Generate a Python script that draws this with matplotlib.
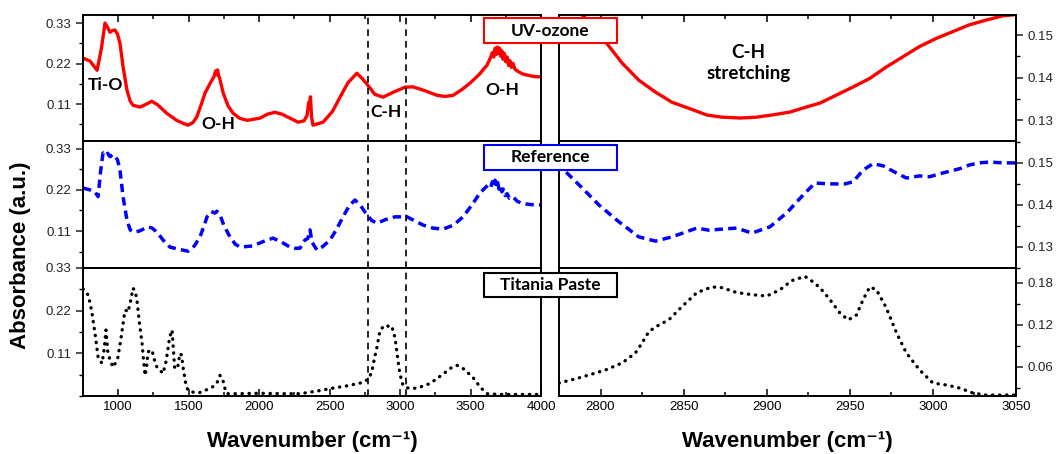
import numpy as np
import matplotlib
matplotlib.use("Agg")
import matplotlib.pyplot as plt
from matplotlib.patches import Rectangle
from matplotlib.ticker import MultipleLocator, AutoMinorLocator

plt.rcParams['font.family'] = ['Liberation Sans', 'DejaVu Sans']

# ---- data ----
# full range, UV-ozone (red)
uv_x = [750, 800, 850, 880, 906, 925, 942, 960, 977, 995, 1012, 1035, 1062, 1085, 1105, 1155, 1200,
        1238, 1280, 1345, 1415, 1460, 1495, 1530, 1557, 1590, 1616, 1650, 1680, 1690, 1700, 1705, 1712,
        1720, 1745, 1780, 1816, 1860, 1914, 2006, 2060, 2112, 2160, 2219, 2276, 2320, 2340, 2352, 2358,
        2364, 2372, 2382, 2453, 2520, 2574, 2630, 2694, 2730, 2772, 2820, 2879, 2950, 3035, 3092, 3180,
        3262, 3320, 3376, 3440, 3496, 3560, 3617, 3640, 3655, 3665, 3675, 3683, 3690, 3698, 3706, 3714,
        3722, 3730, 3740, 3750, 3760, 3770, 3780, 3790, 3801, 3815, 3840, 3870, 3901, 3950, 3993]
uv_y = [.235, .227, .202, .26, .330, .318, .305, .31, .311, .30, .276, .21, .148, .118, .107, .102, .110,
        .118, .108, .085, .066, .058, .053, .060, .075, .11, .14, .165, .185, .20, .19, .203, .188,
        .18, .14, .105, .085, .072, .066, .072, .083, .088, .083, .072, .061, .065, .08, .115, .105,
        .13, .075, .053, .061, .09, .129, .168, .194, .18, .161, .137, .129, .142, .156, .157, .146,
        .134, .131, .134, .15, .167, .19, .216, .235, .25, .238, .262, .245, .265, .248, .262, .24,
        .255, .232, .248, .225, .238, .215, .228, .21, .221, .205, .198, .192, .189, .185, .184]

# full range, Reference (blue)
ref_x = [750, 800, 835, 857, 875, 892, 910, 925, 942, 960, 977, 995, 1012, 1035, 1062, 1085, 1105, 1150,
         1211, 1240, 1275, 1320, 1367, 1420, 1495, 1540, 1580, 1610, 1630, 1660, 1687, 1700, 1722, 1750,
         1793, 1830, 1864, 1956, 2030, 2098, 2160, 2219, 2254, 2290, 2325, 2345, 2361, 2375, 2410, 2450,
         2503, 2550, 2595, 2640, 2680, 2720, 2765, 2800, 2836, 2900, 2964, 3049, 3100, 3163, 3230, 3305,
         3380, 3447, 3510, 3567, 3610, 3630, 3645, 3655, 3665, 3674, 3684, 3692, 3702, 3712, 3722, 3732,
         3745, 3760, 3775, 3801, 3830, 3860, 3901, 3950, 3993]
ref_y = [.225, .220, .215, .202, .27, .319, .312, .318, .309, .315, .311, .30, .274, .20, .139, .113, .107, .110,
         .121, .118, .107, .085, .067, .062, .056, .07, .094, .125, .148, .162, .158, .163, .153, .125,
         .094, .075, .067, .070, .082, .091, .080, .067, .064, .064, .086, .09, .113, .08, .059, .068,
         .086, .115, .148, .178, .193, .178, .153, .138, .131, .141, .148, .148, .138, .126, .118, .115,
         .126, .148, .18, .212, .228, .235, .228, .242, .23, .246, .228, .24, .222, .232, .215, .222,
         .205, .21, .198, .202, .19, .185, .182, .180, .180]

# full range, Titania paste (black)
tp_x = [750, 770, 786, 800, 814, 835, 857, 885, 900, 913, 920, 927, 945, 963, 980, 998, 1020, 1048, 1060,
        1069, 1085, 1105, 1120, 1133, 1150, 1169, 1180, 1190, 1200, 1211, 1225, 1240, 1255, 1275, 1300,
        1318, 1340, 1360, 1375, 1382, 1400, 1420, 1438, 1450, 1460, 1480, 1495, 1540, 1580, 1640, 1687,
        1710, 1722, 1740, 1760, 1772, 1850, 2006, 2150, 2290, 2400, 2503, 2620, 2737, 2780, 2801, 2820,
        2836, 2858, 2880, 2907, 2925, 2943, 2955, 2964, 2975, 2985, 3000, 3021, 3050, 3092, 3150, 3212,
        3300, 3360, 3404, 3450, 3517, 3570, 3617, 3700, 3801, 3900, 3993]
tp_y = [.276, .27, .260, .24, .213, .162, .100, .084, .12, .170, .14, .110, .09, .074, .085, .100, .15, .221, .22,
        .216, .24, .278, .27, .247, .19, .136, .09, .053, .07, .113, .118, .118, .095, .074, .065,
        .058, .09, .14, .165, .170, .074, .07, .110, .105, .074, .03, .014, .009, .009, .018, .027,
        .04, .053, .045, .015, .006, .006, .007, .006, .006, .012, .019, .026, .035, .045, .066, .10,
        .126, .170, .178, .183, .176, .178, .16, .152, .12, .092, .055, .027, .021, .019, .024, .032,
        .055, .072, .079, .07, .048, .022, .006, .004, .004, .004, .004]

# C-H stretching zoom
uv_ch_x = [2775, 2789, 2796, 2803, 2813, 2823, 2833, 2843, 2853, 2864, 2873, 2884, 2894, 2903, 2914,
           2924, 2932, 2942, 2952, 2962, 2972, 2982, 2992, 3002, 3012, 3022, 3032, 3042, 3050]
uv_ch_y = [.158, .1547, .152, .1484, .1434, .1394, .1366, .1342, .1328, .1312, .1307, .1305, .1307, .1312, .1319,
           .1331, .1340, .1359, .1378, .1398, .1425, .1449, .1473, .1492, .1508, .1524, .1535, .1545, .1548]

ref_ch_x = [2775, 2779, 2789, 2799, 2811, 2823, 2833, 2843, 2858, 2865, 2882, 2891, 2902, 2912, 2922,
            2929, 2938, 2947, 2952, 2958, 2964, 2970, 2978, 2984, 2992, 2998, 3006, 3016, 3022, 3028,
            3034, 3042, 3050]
ref_ch_y = [.1505, .1479, .1440, .1400, .1360, .1324, .1314, .1324, .1345, .1340, .1345, .1333, .1348, .1381, .1424,
            .1452, .1450, .1450, .1455, .1483, .1498, .1493, .1476, .1464, .1469, .1467, .1476, .1486, .1495, .1500,
            .1502, .1500, .1500]

tp_ch_x = [2775, 2789, 2803, 2813, 2821, 2825, 2829, 2833, 2841, 2849, 2858, 2867, 2873, 2882, 2891,
           2900, 2908, 2915, 2923, 2928, 2932, 2938, 2944, 2949, 2954, 2958, 2962, 2966, 2972, 2978,
           2984, 2992, 3000, 3008, 3016, 3024, 3032, 3050]
tp_ch_y = [.037, .0457, .0557, .0657, .080, .0943, .110, .117, .127, .146, .166, .174, .173, .166, .163,
           .161, .170, .183, .189, .181, .173, .156, .137, .127, .134, .156, .174, .170, .144, .109,
           .080, .0557, .0371, .0343, .030, .0229, .020, .020]

labels = ['UV-ozone', 'Reference', 'Titania Paste']
edge_colors = ['red', 'blue', 'black']
left_yticks = [[0.11, 0.22, 0.33]] * 3
right_yticks = [[0.13, 0.14, 0.15], [0.13, 0.14, 0.15], [0.06, 0.12, 0.18]]

# ---- figure ----
W, H = 1059, 454
fig = plt.figure(figsize=(W / 100, H / 100), dpi=100)

def fx(px):
    return px / W

def fy(py):
    return 1 - py / H

rows = [(15, 141), (141, 268), (268, 396)]
left_lims = [(0.01, 0.352), (0.011, 0.351), (0.0, 0.33)]
right_lims = [(0.1251, 0.1547), (0.125, 0.1552), (0.0186, 0.201)]

styles = [dict(color='red', lw=2.4, ls='-'),
          dict(color='blue', lw=2.5, ls=(0, (2.4, 1.5))),
          dict(color='black', lw=2.4, ls=(0, (0.1, 2.0)), dash_capstyle='round')]

full = [(uv_x, uv_y), (ref_x, ref_y), (tp_x, tp_y)]
zoom = [(uv_ch_x, uv_ch_y), (ref_ch_x, ref_ch_y), (tp_ch_x, tp_ch_y)]

axL, axR = [], []
for i, (t, b) in enumerate(rows):
    aL = fig.add_axes([fx(83), fy(b), fx(541 - 83), (b - t) / H])
    aR = fig.add_axes([fx(559), fy(b), fx(1016 - 559), (b - t) / H])
    aL.plot(full[i][0], full[i][1], **styles[i])
    aR.plot(zoom[i][0], zoom[i][1], **styles[i])
    aL.set_xlim(750, 4000)
    aR.set_xlim(2775, 3050)
    aL.set_ylim(*left_lims[i])
    aR.set_ylim(*right_lims[i])
    aL.set_yticks(left_yticks[i])
    aR.set_yticks(right_yticks[i])
    aL.yaxis.set_minor_locator(AutoMinorLocator(2))
    aR.yaxis.set_minor_locator(AutoMinorLocator(2))
    aR.yaxis.tick_right()
    aL.xaxis.set_major_locator(MultipleLocator(500))
    aL.xaxis.set_minor_locator(MultipleLocator(250))
    aR.xaxis.set_major_locator(MultipleLocator(50))
    aR.xaxis.set_minor_locator(MultipleLocator(25))
    for a in (aL, aR):
        for s in a.spines.values():
            s.set_linewidth(1.4)
        a.tick_params(axis='y', which='major', direction='out', length=5, width=1.1,
                      labelsize=9.5, colors='#222222')
        a.tick_params(axis='y', which='minor', direction='out', length=3, width=1.0)
        a.tick_params(axis='x', which='both', direction='in', bottom=(i == 2), top=(i == 0),
                      labelbottom=(i == 2), labelsize=9.5, width=1.1)
        a.tick_params(axis='x', which='major', length=5)
        a.tick_params(axis='x', which='minor', length=3)
    for xv in (2770, 3040):
        aL.axvline(xv, color='black', ls=(0, (4, 3)), lw=1.2)
    axL.append(aL)
    axR.append(aR)

# annotations
ann_font = dict(family=['Lato', 'DejaVu Sans'], fontweight='bold', fontsize=12.5)
axL[0].text(906, 0.162, 'Ti-O', ha='center', va='center', **ann_font)
axL[0].text(1708, 0.056, 'O-H', ha='center', va='center', **ann_font)
axL[0].text(2900, 0.088, 'C-H', ha='center', va='center', **ann_font)
axL[0].text(3723, 0.148, 'O-H', ha='center', va='center', **ann_font)
axR[0].text(2889, 0.1434, 'C-H\nstretching', ha='center', va='center', linespacing=1.3,
            family=['Lato', 'DejaVu Sans'], fontweight='bold', fontsize=13.5)

# legend boxes straddling both panels
box_rows = [(18, 43), (145, 170), (273, 297)]
for (t, b), lab, ec in zip(box_rows, labels, edge_colors):
    fig.add_artist(Rectangle((fx(484), fy(b)), fx(617 - 484), (b - t) / H,
                             transform=fig.transFigure, facecolor='white',
                             edgecolor=ec, lw=1.5, zorder=5))
    fig.text(fx((484 + 617) / 2), fy((t + b) / 2), lab, ha='center', va='center',
             zorder=6, **ann_font)

lab_font = dict(fontsize=16, fontweight='bold', family=['Liberation Sans', 'DejaVu Sans'])
fig.text(fx(21), fy(255), 'Absorbance (a.u.)', rotation=90, ha='center', va='center', **lab_font)
fig.text(fx(312), fy(441), 'Wavenumber (cm\u207b\u00b9)', ha='center', va='center', **lab_font)
fig.text(fx(787), fy(441), 'Wavenumber (cm\u207b\u00b9)', ha='center', va='center', **lab_font)

fig.savefig('out.png', dpi=100)
